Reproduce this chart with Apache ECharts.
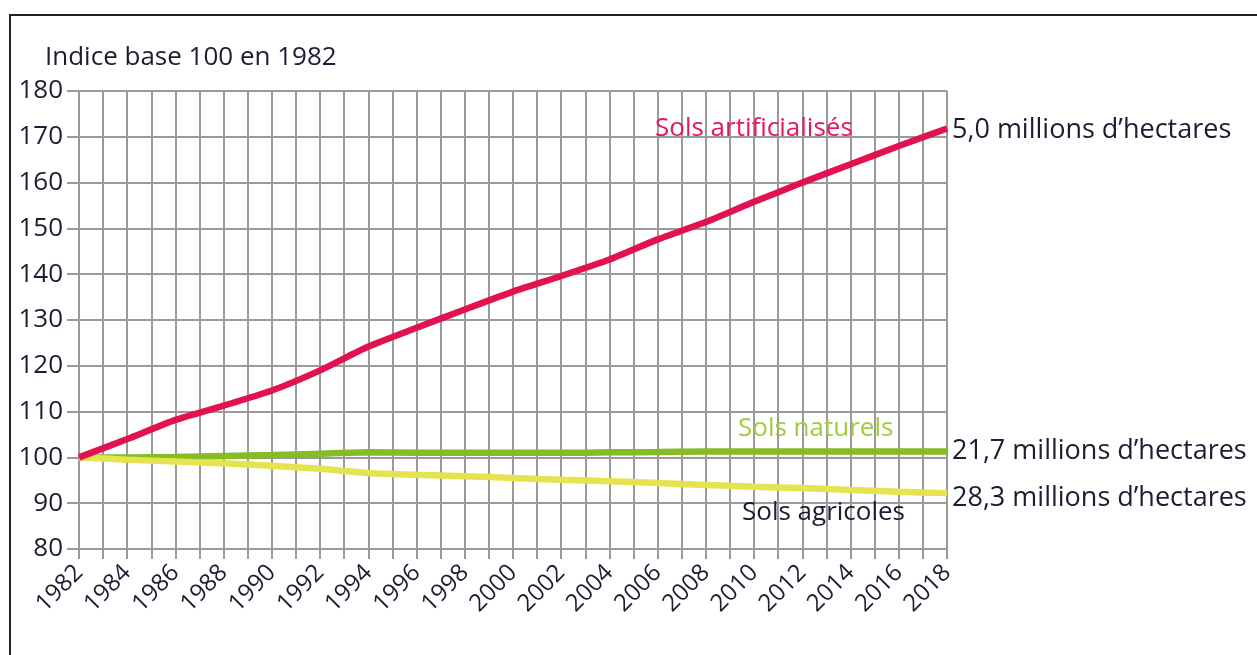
<!DOCTYPE html>
<html>
<head>
<meta charset="utf-8">
<script src="https://cdn.jsdelivr.net/npm/echarts@6/dist/echarts.min.js"></script>
<style>
  html, body { margin: 0; padding: 0; background: #fff; }
  #chart { width: 1257px; height: 655px; }
</style>
</head>
<body>
<div id="chart"></div>
<script>
// years read on the x axis (every 2 years)
const years = [1982, 1984, 1986, 1988, 1990, 1992, 1994, 1996, 1998, 2000,
  2002, 2004, 2006, 2008, 2010, 2012, 2014, 2016, 2018];

const solsArtificialises = [100, 104, 108.2, 111.3, 114.6, 119, 124.2, 128.3, 132.3, 136.2,
  139.6, 143.2, 147.6, 151.4, 155.8, 160, 164, 168, 171.8];
const solsNaturels = [100, 100, 100.1, 100.3, 100.5, 100.8, 101.1, 101, 101, 101,
  101, 101.1, 101.2, 101.3, 101.3, 101.3, 101.3, 101.3, 101.3];
const solsAgricoles = [100, 99.5, 99.1, 98.7, 98.2, 97.5, 96.6, 96.2, 95.9, 95.5,
  95.1, 94.8, 94.4, 94.0, 93.6, 93.3, 92.9, 92.5, 92.2];

const endTexts = ['5,0 millions d\u2019hectares', '21,7 millions d\u2019hectares', '28,3 millions d\u2019hectares'];

const FONT = 'Open Sans';
const TXT = '#1c1c33';
const GRID = '#9a9a9a';

function pairs(vals) {
  return years.map((y, i) => [y, vals[i]]);
}

function lineSeries(name, vals, color, endText, dy) {
  return {
    name: name,
    type: 'line',
    data: pairs(vals),
    symbol: 'none',
    smooth: 0.2,
    lineStyle: { color: color, width: 6.5 },
    endLabel: {
      show: true,
      formatter: endText,
      color: TXT,
      fontFamily: FONT,
      fontSize: 27,
      distance: 5,
      offset: [0, dy]
    }
  };
}

const chart = echarts.init(document.getElementById('chart'));
chart.setOption({
  animation: false,
  backgroundColor: '#fff',
  title: {
    text: 'Indice base 100 en 1982',
    left: 40,
    top: 40,
    textStyle: { color: TXT, fontFamily: FONT, fontSize: 26, fontWeight: 'normal' }
  },
  grid: { left: 79, right: 310, top: 91, bottom: 106 },
  xAxis: {
    type: 'value',
    min: 1982,
    max: 2018,
    interval: 1,
    axisLine: { show: false },
    axisTick: { show: true, length: 10, lineStyle: { color: GRID, width: 2 } },
    splitLine: { show: true, lineStyle: { color: GRID, width: 2 } },
    axisLabel: {
      rotate: 45,
      margin: 20,
      color: TXT,
      fontFamily: FONT,
      fontSize: 24,
      formatter: v => (v % 2 === 0 ? String(v) : '')
    }
  },
  yAxis: {
    type: 'value',
    min: 80,
    max: 180,
    interval: 10,
    axisLine: { show: false },
    axisTick: { show: true, length: 12, lineStyle: { color: GRID, width: 2 } },
    splitLine: { show: true, lineStyle: { color: GRID, width: 2 } },
    axisLabel: { margin: 16, color: TXT, fontFamily: FONT, fontSize: 26 }
  },
  series: [
    lineSeries('Sols naturels', solsNaturels, '#86bc25', endTexts[1], 0),
    lineSeries('Sols agricoles', solsAgricoles, '#e4e350', endTexts[2], 5),
    lineSeries('Sols artificialisés', solsArtificialises, '#e2114f', endTexts[0], 2)
  ],
  graphic: [
    {
      type: 'rect',
      z: 100,
      shape: { x: 10, y: 15, width: 1400, height: 800 },
      style: { fill: 'none', stroke: '#222', lineWidth: 2 },
      silent: true
    },
    {
      type: 'text', left: 655, top: 116, z: 100,
      style: { text: 'Sols artificialisés', fill: '#e8175d', font: '26px "' + FONT + '"' }
    },
    {
      type: 'text', left: 738, top: 416, z: 100,
      style: { text: 'Sols naturels', fill: '#a0cd40', font: '26px "' + FONT + '"' }
    },
    {
      type: 'text', left: 742, top: 500, z: 100,
      style: { text: 'Sols agricoles', fill: TXT, font: '26px "' + FONT + '"' }
    }
  ]
});
</script>
</body>
</html>
